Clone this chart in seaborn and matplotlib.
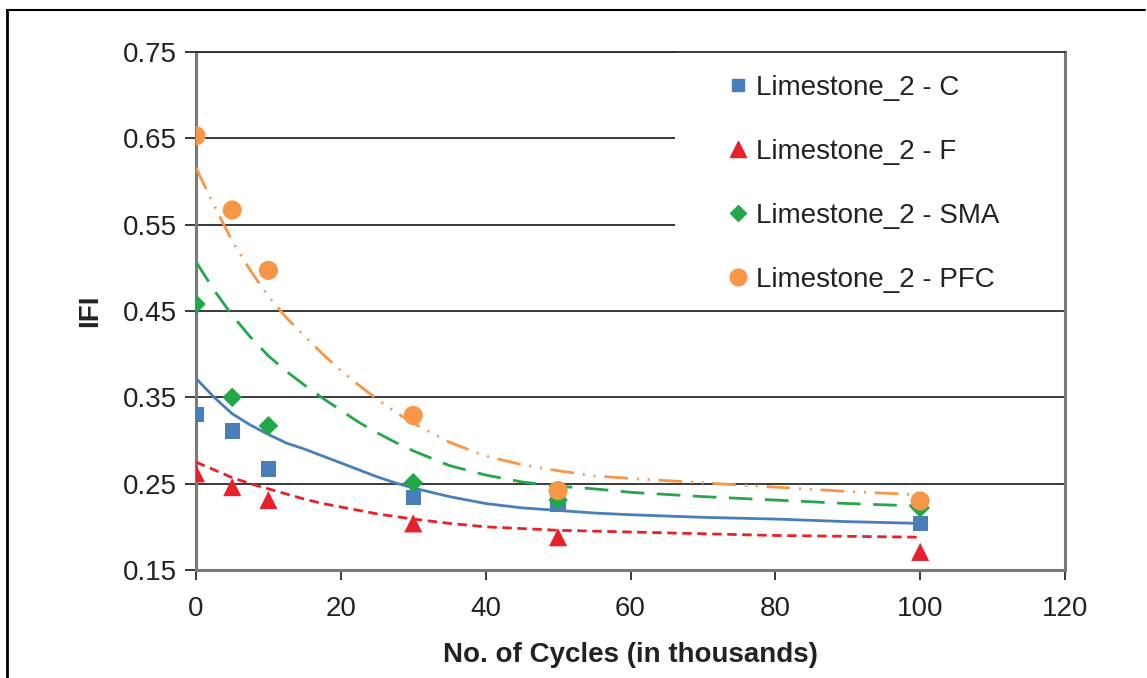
import matplotlib
matplotlib.use("Agg")
import matplotlib.pyplot as plt
from matplotlib.lines import Line2D
from matplotlib.patches import Rectangle
import seaborn as sns
import pandas as pd

# ---- data ----
cycles = [0, 5, 10, 30, 50, 100]
ifi_c = [0.330, 0.311, 0.267, 0.234, 0.226, 0.204]
ifi_f = [0.262, 0.246, 0.231, 0.204, 0.188, 0.171]
ifi_sma = [0.458, 0.350, 0.317, 0.251, 0.231, 0.222]
ifi_pfc = [0.653, 0.567, 0.497, 0.329, 0.242, 0.230]

trend_x = [0, 2.5, 5, 7.5, 10, 12.5, 15, 17.5, 20, 22.5, 25, 27.5, 30,
           35, 40, 45, 50, 55, 60, 70, 80, 90, 100]
trend_c = [0.372, 0.350, 0.331, 0.318, 0.307, 0.297, 0.290, 0.282, 0.274, 0.266,
           0.258, 0.251, 0.245, 0.235, 0.227, 0.222, 0.219, 0.216, 0.214, 0.211,
           0.209, 0.206, 0.204]
trend_f = [0.275, 0.266, 0.257, 0.250, 0.244, 0.238, 0.232, 0.227, 0.223, 0.219,
           0.215, 0.212, 0.209, 0.204, 0.200, 0.198, 0.196, 0.195, 0.194, 0.192,
           0.190, 0.189, 0.188]
trend_sma = [0.507, 0.474, 0.445, 0.420, 0.398, 0.380, 0.364, 0.349, 0.335, 0.321,
             0.309, 0.298, 0.288, 0.271, 0.260, 0.252, 0.247, 0.244, 0.240, 0.235,
             0.231, 0.227, 0.224]
trend_pfc = [0.616, 0.572, 0.531, 0.497, 0.467, 0.442, 0.421, 0.400, 0.381, 0.364,
             0.348, 0.333, 0.320, 0.298, 0.282, 0.272, 0.265, 0.259, 0.256, 0.251,
             0.246, 0.241, 0.237]

labels = ["Limestone_2 - C", "Limestone_2 - F", "Limestone_2 - SMA", "Limestone_2 - PFC"]
x_ticks = [0, 20, 40, 60, 80, 100, 120]
y_ticks = [0.15, 0.25, 0.35, 0.45, 0.55, 0.65, 0.75]

# ---- styling ----
sns.set_theme(style="white")
plt.rcParams["font.family"] = ["Liberation Sans", "DejaVu Sans"]

colors = ["#4a7ebb", "#e8202a", "#22a84a", "#f79646"]
markers = ["s", "^", "D", "o"]
msizes = [120, 170, 100, 190]
linestyles = ["-", (0, (3.4, 2.0)), (0, (8.5, 4.5)), (0, (8.5, 3.2, 0.7, 3.2, 0.7, 3.2))]

fig = plt.figure(figsize=(11.47, 6.78), dpi=100)
ax = fig.add_axes([196 / 1147, 1 - 570 / 678, (1065 - 196) / 1147, (570 - 52) / 678])

series = [ifi_c, ifi_f, ifi_sma, ifi_pfc]
trends = [trend_c, trend_f, trend_sma, trend_pfc]

for ys, ts, col, mk, ms, ls in zip(series, trends, colors, markers, msizes, linestyles):
    tdf = pd.DataFrame({"x": trend_x, "y": ts})
    sns.lineplot(data=tdf, x="x", y="y", ax=ax, color=col, linewidth=2.0,
                 linestyle=ls, zorder=3)
    ddf = pd.DataFrame({"x": cycles, "y": ys})
    sns.scatterplot(data=ddf, x="x", y="y", ax=ax, color=col, marker=mk, s=ms,
                    edgecolor="none", linewidth=0, zorder=4)

ax.set_xlim(0, 120)
ax.set_ylim(0.15, 0.75)
ax.set_xticks(x_ticks)
ax.set_yticks(y_ticks)
ax.set_xticklabels([str(v) for v in x_ticks])
ax.set_yticklabels([f"{v:.2f}" for v in y_ticks])

ax.yaxis.grid(True, color="#2b2b2b", linewidth=1.3)
ax.xaxis.grid(False)
ax.set_axisbelow(True)

for side in ["left", "bottom", "right"]:
    ax.spines[side].set_color("#7a7a7a")
    ax.spines[side].set_linewidth(2.2)
    ax.spines[side].set_visible(True)
ax.spines["top"].set_color("#2b2b2b")
ax.spines["top"].set_linewidth(1.3)
ax.spines["top"].set_visible(True)

ax.tick_params(axis="both", which="major", labelsize=20, colors="#2b2b2b",
               labelcolor="#222222")
ax.tick_params(axis="y", length=8, width=1.3, direction="out", left=True, pad=6)
ax.tick_params(axis="x", length=7, width=1.3, direction="out", bottom=True, pad=12)

ax.set_xlabel("No. of Cycles (in thousands)", fontsize=20, fontweight="bold",
              color="#222222", labelpad=14)
ax.set_ylabel("IFI", fontsize=20, fontweight="bold", color="#222222", labelpad=14)

# white area behind the legend (hides gridlines there)
ax.add_patch(Rectangle((0.551, 0.521), 0.449, 0.479, transform=ax.transAxes,
                       facecolor="white", edgecolor="none", zorder=1))

handles = [Line2D([], [], linestyle="none", marker=mk, color=col, markersize=sz)
           for mk, col, sz in zip(markers, colors, [9, 11, 8, 12])]
leg = ax.legend(handles, labels, loc="upper left",
                bbox_to_anchor=((728 - 196) / 869, 1 - (75 - 52) / 518),
                frameon=False, fontsize=20, handlelength=0.7, handletextpad=0.3,
                labelspacing=1.37, borderpad=0, borderaxespad=0)
for t in leg.get_texts():
    t.set_color("#222222")
leg.set_zorder(2)

# figure border lines (left and top)
fig.add_artist(Line2D([7 / 1147, 7 / 1147], [0, 1 - 10 / 678], transform=fig.transFigure,
                      color="black", linewidth=2))
fig.add_artist(Line2D([7 / 1147, 1145 / 1147], [1 - 10 / 678, 1 - 10 / 678],
                      transform=fig.transFigure, color="black", linewidth=1.5))

fig.savefig("out.png", dpi=100)
